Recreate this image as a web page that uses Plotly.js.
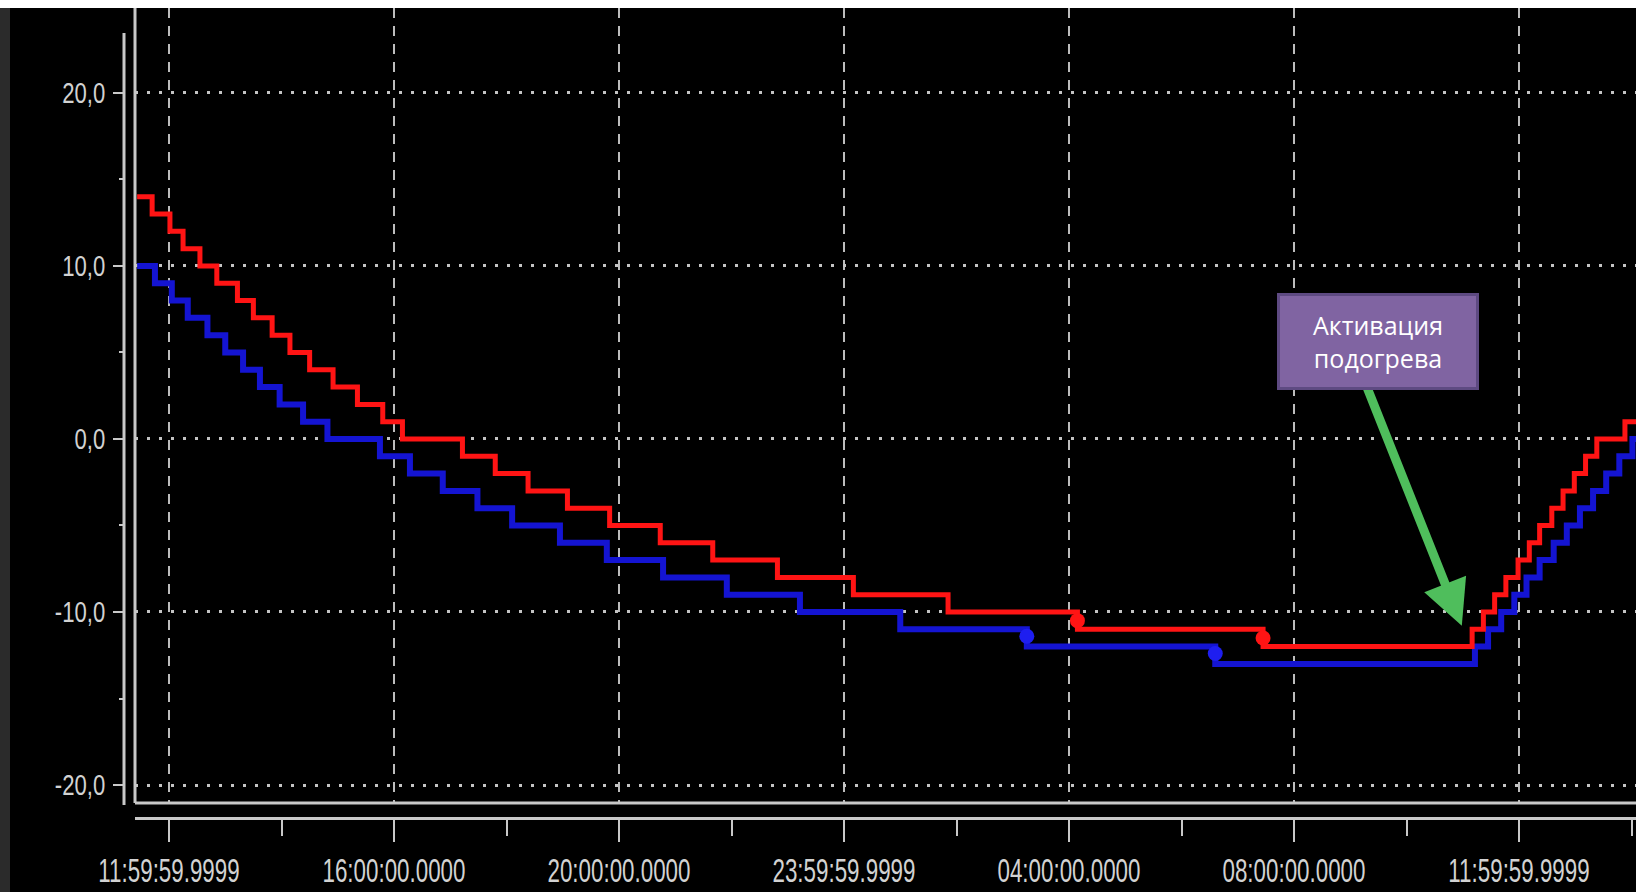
<!DOCTYPE html>
<html>
<head>
<meta charset="utf-8">
<script src="https://cdn.plot.ly/plotly-3.0.1.min.js"></script>
<style>
  html, body { margin: 0; padding: 0; background: #000; overflow: hidden; }
  #wrap { position: relative; width: 1636px; height: 892px; }
  #chart { position: absolute; left: 0; top: 0; width: 1636px; height: 892px; }
  #topstrip { position: absolute; left: 0; top: 0; width: 1636px; height: 8px; background: #fff; }
  #leftstrip { position: absolute; left: 0; top: 8px; width: 10px; height: 884px; background: #2b2b2b; }
</style>
</head>
<body>
<div id="wrap">
  <div id="chart"></div>
  <div id="leftstrip"></div>
  <div id="topstrip"></div>
</div>
<script>
// ---- data ----
const D1 = '2000-01-01 ';
const D2 = '2000-01-02 ';

const redTimes = [
  D1+'11:26', D1+'11:42', D1+'12:01', D1+'12:15', D1+'12:33', D1+'12:51', D1+'13:13',
  D1+'13:30', D1+'13:50', D1+'14:09', D1+'14:30', D1+'14:55', D1+'15:21', D1+'15:48',
  D1+'16:09', D1+'17:13', D1+'17:48', D1+'18:23', D1+'19:05', D1+'19:50', D1+'20:44',
  D1+'21:40', D1+'22:49', D2+'00:10', D2+'01:51', D2+'04:09', D2+'07:27',
  D2+'11:10', D2+'11:22', D2+'11:34', D2+'11:46', D2+'11:59', D2+'12:11', D2+'12:22',
  D2+'12:35', D2+'12:47', D2+'12:59', D2+'13:11', D2+'13:23', D2+'13:53', D2+'14:05'
];
const redValues = [
  14, 13, 12, 11, 10, 9, 8,
  7, 6, 5, 4, 3, 2, 1,
  0, -1, -2, -3, -4, -5, -6,
  -7, -8, -9, -10, -11, -12,
  -11, -10, -9, -8, -7, -6, -5,
  -4, -3, -2, -1, 0, 1, 1
];

const blueTimes = [
  D1+'11:26', D1+'11:45', D1+'12:03', D1+'12:20', D1+'12:41', D1+'13:00', D1+'13:19',
  D1+'13:37', D1+'13:58', D1+'14:23', D1+'14:49', D1+'15:45', D1+'16:17', D1+'16:52',
  D1+'17:29', D1+'18:06', D1+'18:57', D1+'19:47', D1+'20:47', D1+'21:55', D1+'23:13',
  D2+'01:00', D2+'03:15', D2+'06:36',
  D2+'11:13', D2+'11:27', D2+'11:41', D2+'11:55', D2+'12:08', D2+'12:22', D2+'12:37',
  D2+'12:51', D2+'13:05', D2+'13:19', D2+'13:33', D2+'13:47', D2+'14:01', D2+'14:05'
];
const blueValues = [
  10, 9, 8, 7, 6, 5, 4,
  3, 2, 1, 0, -1, -2, -3,
  -4, -5, -6, -7, -8, -9, -10,
  -11, -12, -13,
  -12, -11, -10, -9, -8, -7, -6,
  -5, -4, -3, -2, -1, 0, 0
];

// highlighted points on the curves
const redDotTimes = [D2+'04:09', D2+'07:27'];
const redDotValues = [-10.5, -11.5];
const blueDotTimes = [D2+'03:15', D2+'06:36'];
const blueDotValues = [-11.4, -12.4];

// axes
const xRange = [D1+'11:23:44', D2+'14:04:48'];
const xTickVals = [D1+'12:00', D1+'16:00', D1+'20:00', D2+'00:00', D2+'04:00', D2+'08:00', D2+'12:00'];
const xTickText = ['11:59:59.9999', '16:00:00.0000', '20:00:00.0000', '23:59:59.9999', '04:00:00.0000', '08:00:00.0000', '11:59:59.9999'];
const xMinorVals = [D1+'14:00', D1+'18:00', D1+'22:00', D2+'02:00', D2+'06:00', D2+'10:00', D2+'14:00'];
const yRange = [-21.04, 24.91];
const yTickVals = [20, 10, 0, -10, -20];
const yTickText = ['20,0', '10,0', '0,0', '-10,0', '-20,0'];
const yMinorVals = [15, 5, -5, -15];

const annotationText = 'Активация<br>подогрева';
const arrowTip = {x: D2+'10:59', y: -10.8};

// ---- styles ----
const AXC = '#c8c8c8';
const TICKFONT = {family: '"Liberation Sans", Arial, sans-serif', color: '#d2d2d2'};

const traces = [
  {x: blueTimes, y: blueValues, type: 'scatter', mode: 'lines', line: {shape: 'hv', color: '#1414d2', width: 6}, hoverinfo: 'skip'},
  {x: redTimes, y: redValues, type: 'scatter', mode: 'lines', line: {shape: 'hv', color: '#ff1414', width: 5}, hoverinfo: 'skip'},
  {x: blueDotTimes, y: blueDotValues, type: 'scatter', mode: 'markers', marker: {color: '#1e1ef0', size: 15, symbol: 'circle'}, hoverinfo: 'skip'},
  {x: redDotTimes, y: redDotValues, type: 'scatter', mode: 'markers', marker: {color: '#ff1414', size: 15, symbol: 'circle'}, hoverinfo: 'skip'}
];

const layout = {
  width: 1636, height: 892,
  margin: {l: 124, r: 0, t: 8, b: 74, pad: 0},
  paper_bgcolor: '#000', plot_bgcolor: '#000',
  showlegend: false,
  xaxis: {
    type: 'date', range: xRange, domain: [11/1512, 1],
    anchor: 'free', position: 0,
    tickmode: 'array', tickvals: xTickVals, ticktext: xTickText,
    tickangle: 0,
    ticks: 'outside', ticklen: 22, tickwidth: 2, tickcolor: AXC,
    ticklabelstandoff: 0,
    tickfont: Object.assign({size: 33}, TICKFONT),
    showline: true, linecolor: AXC, linewidth: 3,
    showgrid: true, gridcolor: '#bdbdbd', gridwidth: 2, griddash: '10px,8px',
    minor: {tickmode: 'array', tickvals: xMinorVals, ticks: 'outside', ticklen: 16, tickwidth: 2, tickcolor: AXC, showgrid: false},
    zeroline: false, fixedrange: true
  },
  yaxis: {
    range: yRange, domain: [15/810, 1],
    anchor: 'free', position: 0,
    tickmode: 'array', tickvals: yTickVals, ticktext: yTickText,
    tickangle: 0,
    ticks: 'outside', ticklen: 11, tickwidth: 2, tickcolor: AXC,
    ticklabelstandoff: 2,
    tickfont: Object.assign({size: 29}, TICKFONT),
    showline: false,
    showgrid: true, gridcolor: '#c4c4c4', gridwidth: 3, griddash: '3px,9px',
    minor: {tickmode: 'array', tickvals: yMinorVals, ticks: 'outside', ticklen: 5, tickwidth: 2, tickcolor: AXC, showgrid: false},
    zeroline: false, fixedrange: true
  },
  shapes: [
    // y axis line (separate from the plot frame)
    {type: 'line', xref: 'paper', yref: 'paper', x0: 0, x1: 0, y0: 13/810, y1: 785/810, line: {color: AXC, width: 3}},
    // plot frame: left and bottom
    {type: 'line', xref: 'x domain', yref: 'y domain', x0: 0, x1: 0, y0: 0, y1: 1, line: {color: AXC, width: 3}},
    {type: 'line', xref: 'x domain', yref: 'y domain', x0: 0, x1: 1, y0: 0, y1: 0, line: {color: AXC, width: 3}}
  ],
  annotations: [
    {
      x: arrowTip.x, y: arrowTip.y, xref: 'x', yref: 'y',
      text: '', showarrow: true, arrowhead: 2, arrowsize: 1.0, arrowwidth: 9,
      arrowcolor: '#4fbe5c', ax: -95, ay: -239, axref: 'pixel', ayref: 'pixel', standoff: 0
    },
    {
      x: (1377.5 - 124) / 1512, y: (818 - 341) / 810, xref: 'paper', yref: 'paper',
      xanchor: 'center', yanchor: 'middle',
      text: annotationText, showarrow: false,
      width: 196, height: 91, align: 'center', valign: 'middle',
      bgcolor: '#8064a2', bordercolor: '#5e4a82', borderwidth: 3, borderpad: 0,
      font: {family: '"Open Sans", "Noto Sans", sans-serif', size: 25, color: '#ffffff'}
    }
  ]
};

// condensed look of the tick labels: squeeze glyphs horizontally to the reference widths
function condense(selector, refText, refWidth) {
  const nodes = Array.from(document.querySelectorAll(selector));
  const ref = nodes.find(n => n.textContent === refText);
  if (!ref) return;
  const k = refWidth / ref.getComputedTextLength();
  nodes.forEach(n => {
    const w = n.getComputedTextLength();
    n.setAttribute('textLength', (w * k).toFixed(2));
    n.setAttribute('lengthAdjust', 'spacingAndGlyphs');
  });
}

Plotly.newPlot('chart', traces, layout, {staticPlot: true, displayModeBar: false}).then(() => {
  condense('.xtick text', '16:00:00.0000', 143);
  condense('.ytick text', '20,0', 43);
});
</script>
</body>
</html>
